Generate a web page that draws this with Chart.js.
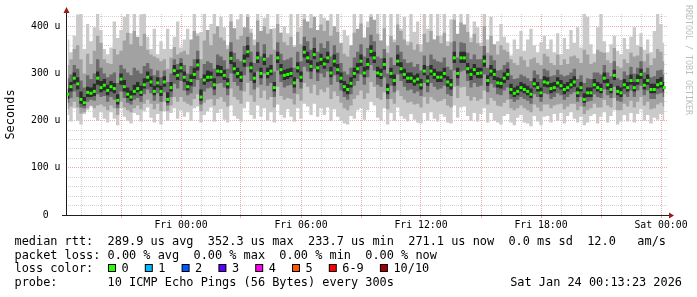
<!DOCTYPE html>
<html>
<head>
<meta charset="utf-8">
<title>Smokeping latency</title>
<script src="https://cdn.jsdelivr.net/npm/chart.js@4.4.1/dist/chart.umd.min.js"></script>
<style>
  html, body { margin: 0; padding: 0; background: #fff; }
  #smoke { display: block; }
</style>
</head>
<body>
<canvas id="smoke" width="697" height="297"></canvas>
<script>
const smokeCanvas = document.getElementById('smoke');

// samples every 10 minutes, first one at Thu 18:15 (hours counted from Fri 00:00)
const startHour = -5.75;
const stepMinutes = 10;

// median rtt in microseconds
const median = [
  256,272,290,278,245,238,260,258,262,290,270,275,
  264,272,268,243,288,272,256,250,262,268,260,276,
  292,282,262,280,262,282,245,270,306,296,312,292,
  272,285,298,318,250,286,292,292,276,305,304,296,
  278,332,310,300,292,326,346,312,290,333,300,330,
  300,305,270,333,308,296,298,300,280,312,292,345,
  333,315,340,312,330,320,333,301,326,308,290,272,
  266,279,300,310,326,301,319,347,333,301,298,319,
  266,300,285,326,310,298,290,290,284,288,276,305,
  284,305,298,292,292,300,282,276,333,300,333,333,
  310,298,308,300,301,326,285,305,298,280,279,290,
  298,266,258,262,270,266,262,256,278,270,259,282,
  280,268,270,280,274,266,270,276,282,259,270,245,
  259,259,276,270,266,290,276,266,296,262,259,276,
  270,285,270,285,298,275,285,266,266,276,279,270
];

// smoke: fastest / slowest ping of each round
const pingMin = [
  212,198,226,200,192,214,222,230,206,200,218,204,
  196,218,204,190,226,208,200,194,216,212,198,220,
  228,206,196,214,192,220,200,216,226,204,222,208,
  218,200,226,230,196,212,220,228,198,216,224,202,
  196,232,210,204,198,226,240,212,204,232,208,226,
  200,218,196,234,212,206,224,208,198,226,204,236,
  230,212,236,208,226,212,228,200,224,208,200,194,
  192,210,204,222,226,202,222,240,232,206,200,226,
  192,216,200,228,210,204,198,214,202,196,194,216,
  200,218,204,198,214,208,196,194,232,206,228,230,
  210,200,216,198,214,226,196,216,200,196,192,210,
  214,196,190,206,212,196,194,188,210,198,190,208,
  210,196,214,200,216,194,210,218,204,196,208,190,
  196,210,214,194,208,218,196,210,222,192,198,212,
  198,216,196,214,224,200,212,194,206,202,214,200
];
const pingMax = [
  372,345,380,425,430,352,405,368,398,430,392,352,
  340,355,410,375,392,420,430,385,430,362,425,430,
  378,352,395,340,368,352,395,352,378,410,355,372,
  395,352,430,385,388,430,366,405,430,372,420,398,
  360,430,380,415,430,372,430,395,372,430,356,418,
  430,375,396,430,368,400,385,430,360,430,398,430,
  390,430,405,372,430,418,376,430,392,430,365,392,
  380,350,430,395,430,372,410,430,388,430,360,430,
  358,430,372,430,395,420,368,430,388,410,362,430,
  395,430,372,430,380,430,368,415,430,382,430,396,
  430,376,410,398,365,430,372,420,355,368,405,378,
  365,338,372,352,390,348,372,395,360,345,366,380,
  352,372,345,385,340,375,352,392,365,398,355,430,
  420,362,342,398,428,368,345,362,380,348,340,375,
  352,378,398,360,385,350,372,345,390,430,405,365
];

// 2nd fastest / 2nd slowest
const lowMid = [
  225,230,240,228,215,218,226,232,226,232,234,230,
  222,232,226,212,240,228,222,218,226,232,224,236,
  244,236,224,236,220,240,220,232,250,240,250,240,
  236,232,246,256,220,238,244,246,232,246,250,240,
  230,268,250,244,236,262,280,254,240,270,248,264,
  244,250,228,272,252,244,248,246,234,256,242,280,
  272,258,276,254,266,260,270,246,262,252,238,226,
  222,232,246,254,264,246,258,282,272,248,244,260,
  224,246,236,264,252,244,238,240,234,236,228,250,
  236,250,244,240,242,246,232,228,272,248,270,272,
  252,242,250,242,246,264,234,248,242,232,230,238,
  244,226,222,226,232,226,222,218,234,228,220,234,
  234,226,232,234,236,224,230,236,236,222,230,214,
  222,226,236,228,228,244,232,228,248,222,222,236,
  230,242,228,240,250,232,240,224,226,234,238,230
];
const highMid = [
  318,330,352,360,330,300,342,320,348,380,365,330,
  322,320,352,340,348,370,386,362,390,378,358,384,
  350,340,336,332,326,330,310,334,356,340,345,348,
  340,372,390,380,330,370,392,360,384,400,376,370,
  352,410,396,372,380,398,420,386,360,412,390,400,
  384,394,350,405,386,366,360,378,356,388,362,415,
  410,396,420,392,404,390,412,380,400,388,364,342,
  336,360,386,394,406,376,398,420,414,384,370,396,
  344,380,366,404,390,372,360,366,350,362,346,384,
  366,390,372,380,364,386,358,366,414,384,408,404,
  388,366,384,364,358,400,344,380,362,340,360,350,
  346,330,322,318,336,328,314,330,334,322,318,342,
  336,322,318,340,318,330,320,336,338,332,322,350,
  340,320,324,350,346,344,328,322,354,316,312,330,
  322,344,336,338,356,326,342,318,332,352,346,326
];

// 3rd fastest / 3rd slowest
const lowInner = [
  238,248,262,250,228,226,240,244,242,256,250,252,
  240,250,244,226,262,248,238,234,244,248,240,256,
  266,258,242,258,240,260,232,250,278,268,284,264,
  254,258,272,286,234,262,268,270,254,278,280,270,
  254,300,282,274,264,296,314,284,266,304,276,300,
  274,280,250,306,282,270,274,276,258,288,268,314,
  304,288,310,284,300,292,304,276,296,282,264,250,
  244,256,274,284,298,276,292,318,306,276,272,292,
  246,274,260,298,284,272,264,266,258,262,252,280,
  260,280,272,266,268,274,256,252,306,274,304,306,
  284,270,280,272,274,298,260,278,270,256,254,264,
  270,246,240,244,250,246,242,236,256,250,240,258,
  256,246,250,258,254,244,250,256,260,240,250,230,
  240,242,256,250,248,266,254,248,272,242,240,256,
  250,264,250,264,274,254,264,246,246,256,258,250
];
const highInner = [
  290,298,318,310,285,270,296,288,300,330,312,300,
  292,298,302,280,318,310,302,296,312,306,300,316,
  322,310,296,306,292,306,282,300,330,320,332,318,
  300,316,330,348,290,320,326,322,310,340,336,328,
  310,366,344,330,326,358,378,346,322,366,336,362,
  334,340,304,366,342,328,330,334,312,346,326,378,
  368,350,376,346,364,354,368,336,360,344,322,304,
  298,312,334,346,362,336,354,382,368,336,332,352,
  300,334,318,360,346,330,322,324,314,320,306,338,
  316,340,330,326,324,334,314,308,368,334,366,364,
  344,330,340,330,330,358,312,338,328,306,308,318,
  324,296,288,290,298,294,290,284,306,298,288,310,
  306,294,296,308,298,294,296,302,310,288,296,280,
  290,288,302,302,298,318,302,294,326,290,286,304,
  296,314,300,312,326,302,312,292,294,306,308,298
];

// pings closest to the median
const lowCore = [
  246,262,278,266,236,232,250,250,252,276,260,264,
  254,262,258,234,276,262,248,242,254,260,252,268,
  282,272,254,270,252,272,238,262,296,286,302,282,
  264,274,288,306,242,276,282,284,266,294,294,286,
  268,320,300,290,282,314,334,302,280,322,290,318,
  290,296,262,322,298,286,288,292,270,302,282,334,
  322,304,330,302,318,310,322,292,314,298,280,262,
  256,270,290,300,316,292,308,336,322,292,288,308,
  256,290,274,316,300,288,280,280,274,278,266,296,
  274,296,288,282,282,290,272,266,322,290,322,322,
  300,286,296,290,290,314,274,294,286,270,268,280,
  286,256,250,254,262,258,254,248,270,262,250,272,
  270,258,262,270,266,256,262,268,272,250,262,238,
  250,250,268,262,258,280,266,258,286,254,250,268,
  262,276,262,276,288,266,276,258,258,268,270,262
];
const highCore = [
  268,282,302,292,262,250,272,270,278,304,284,288,
  276,284,280,256,300,286,270,264,276,282,274,290,
  304,294,274,292,274,294,260,282,318,308,322,304,
  284,298,312,330,266,298,306,304,290,318,316,308,
  290,346,324,312,304,340,360,324,302,346,312,342,
  312,318,282,346,320,308,310,312,292,324,304,358,
  346,328,354,324,342,332,346,314,340,320,302,284,
  278,292,312,322,340,314,332,360,346,314,310,332,
  278,312,298,340,324,310,302,302,296,300,288,318,
  296,318,310,304,304,312,294,288,346,312,346,346,
  322,310,320,312,312,338,296,318,310,292,290,302,
  310,278,270,274,282,278,274,268,290,282,270,294,
  292,280,282,292,286,278,282,288,294,270,282,258,
  270,270,288,282,278,302,288,278,308,274,270,288,
  282,298,282,298,310,288,298,278,278,288,292,282
];

const hourTicks = [0, 6, 12, 18, 24];
const hourLabels = ['Fri 00:00', 'Fri 06:00', 'Fri 12:00', 'Fri 18:00', 'Sat 00:00'];
const yTicks = [0, 100, 200, 300, 400];
const yLabels = ['0  ', '100 u', '200 u', '300 u', '400 u'];

const lossLabels = ['0', '1', '2', '3', '4', '5', '6-9', '10/10'];
const lossColors = ['#26ff00', '#00b8ff', '#0059ff', '#5e00ff', '#ff00ea', '#ff5500', '#ff0000', '#a10000'];

const legendLines = [
  'median rtt:  289.9 us avg  352.3 us max  233.7 us min  271.1 us now  0.0 ms sd  12.0   am/s',
  'packet loss: 0.00 % avg  0.00 % max  0.00 % min  0.00 % now',
  'loss color:',
  'probe:       10 ICMP Echo Pings (56 Bytes) every 300s'
];
const stampText = 'Sat Jan 24 00:13:23 2026';

const majorGrid = 'rgba(215, 90, 90, 0.5)';
const minorGrid = 'rgba(150, 150, 150, 0.42)';
const monoFont = '"DejaVu Sans Mono", "Liberation Mono", monospace';


// x value of every sample (middle of its 10 minute step)
const times = median.map((v, i) => startHour + (i + 0.5) * stepMinutes / 60);
const toPoints = arr => arr.map((v, i) => ({x: times[i], y: v}));

const smokeLayers = [
    {lo: pingMin, hi: pingMax, color: '#cacaca'},
    {lo: lowMid, hi: highMid, color: '#a2a2a2'},
    {lo: lowInner, hi: highInner, color: '#6c6c6c'},
    {lo: lowCore, hi: highCore, color: '#2c2c2c'}
];

let datasets = [];
smokeLayers.forEach((layer, n) => {
    datasets.push({
        data: toPoints(layer.lo),
        borderWidth: 0,
        borderColor: 'rgba(0,0,0,0)',
        pointRadius: 0,
        fill: false,
        stepped: 'middle',
        order: 100 - n * 2
    });
    datasets.push({
        data: toPoints(layer.hi),
        borderWidth: 0,
        borderColor: 'rgba(0,0,0,0)',
        backgroundColor: layer.color,
        pointRadius: 0,
        fill: '-1',
        stepped: 'middle',
        order: 99 - n * 2
    });
});

// green median marks (0 % loss)
datasets.push({
    data: toPoints(median),
    showLine: false,
    pointStyle: 'rect',
    pointRadius: 2.1,
    pointBackgroundColor: lossColors[0],
    pointBorderWidth: 0,
    order: 0
});


// axes, arrows, watermark and the legend text under the graph
const rrdDecor = {
    id: 'rrdDecor',
    afterDraw(chart) {
        const ctx = chart.ctx;
        const area = chart.chartArea;
        ctx.save();

        ctx.strokeStyle = '#1e1e1e';
        ctx.lineWidth = 1;
        ctx.beginPath();
        ctx.moveTo(area.left + 0.5, area.bottom + 0.5);
        ctx.lineTo(area.left + 0.5, area.top - 3);
        ctx.moveTo(area.left - 4, area.bottom + 0.5);
        ctx.lineTo(area.right + 2, area.bottom + 0.5);
        ctx.stroke();

        ctx.fillStyle = '#9b1b1b';
        ctx.beginPath();
        ctx.moveTo(area.left + 0.5, area.top - 7);
        ctx.lineTo(area.left - 2.5, area.top - 1);
        ctx.lineTo(area.left + 3.5, area.top - 1);
        ctx.closePath();
        ctx.fill();
        ctx.beginPath();
        ctx.moveTo(area.right + 6, area.bottom + 0.5);
        ctx.lineTo(area.right + 1, area.bottom - 2.5);
        ctx.lineTo(area.right + 1, area.bottom + 3.5);
        ctx.closePath();
        ctx.fill();

        // y axis title
        ctx.fillStyle = '#000';
        ctx.font = '11.9px ' + monoFont;
        ctx.textAlign = 'center';
        ctx.textBaseline = 'middle';
        ctx.save();
        ctx.translate(11, (area.top + area.bottom) / 2);
        ctx.rotate(-Math.PI / 2);
        ctx.fillText('Seconds', 0, 0);
        ctx.restore();

        // watermark
        ctx.save();
        ctx.fillStyle = '#bdbdbd';
        ctx.font = '8.3px ' + monoFont;
        ctx.textAlign = 'left';
        ctx.translate(688, 5);
        ctx.rotate(Math.PI / 2);
        ctx.fillText('RRDTOOL / TOBI OETIKER', 0, 0);
        ctx.restore();

        // legend
        ctx.font = '11.9px ' + monoFont;
        ctx.textAlign = 'left';
        ctx.textBaseline = 'alphabetic';
        const baselines = [245, 258.5, 272, 285.5];
        legendLines.forEach((line, i) => {
            ctx.fillText(line, 14.5, baselines[i]);
        });

        let sx = 108;
        lossLabels.forEach((label, i) => {
            ctx.fillStyle = '#000';
            ctx.fillRect(sx, 264, 8, 8);
            ctx.fillStyle = lossColors[i];
            ctx.fillRect(sx + 1, 265, 6, 6);
            ctx.fillStyle = '#000';
            ctx.fillText(label, sx + 13.5, baselines[2]);
            sx += 36.8 + (label.length - 1) * 7.15;
        });

        ctx.textAlign = 'right';
        ctx.fillText(stampText, 682, baselines[3]);
        ctx.restore();
    }
};


let smokeChart = new Chart(smokeCanvas, {
    type: 'line',
    data: { datasets: datasets },
    options: {
        responsive: false,
        animation: false,
        devicePixelRatio: 1,
        layout: {
            padding: { left: 0, right: 29, top: 14, bottom: 62 }
        },
        plugins: {
            legend: { display: false },
            tooltip: { enabled: false }
        },
        scales: {
            x: {
                type: 'linear',
                min: -5.75,
                max: 24.35,
                border: { display: false, dash: [1, 1] },
                grid: {
                    color: c => c.tick.value % 3 === 0 ? majorGrid : minorGrid,
                    drawTicks: true,
                    tickLength: 3,
                    tickColor: c => c.tick.value % 3 === 0 ? majorGrid : 'rgba(0,0,0,0)'
                },
                ticks: {
                    stepSize: 1,
                    includeBounds: false,
                    autoSkip: false,
                    maxRotation: 0,
                    padding: 2,
                    color: '#000',
                    font: { family: monoFont, size: 9.8 },
                    callback: v => {
                        const k = hourTicks.indexOf(v);
                        return k < 0 ? '' : hourLabels[k];
                    }
                },
                afterFit: s => { s.height = 20; }
            },
            y: {
                min: 0,
                max: 426,
                border: { display: false, dash: [1, 1] },
                grid: {
                    color: c => c.tick.value % 100 === 0 ? majorGrid : minorGrid,
                    drawTicks: false
                },
                ticks: {
                    stepSize: 20,
                    includeBounds: false,
                    autoSkip: false,
                    padding: 5.5,
                    color: '#000',
                    font: { family: monoFont, size: 9.8 },
                    callback: v => {
                        const k = yTicks.indexOf(v);
                        return k < 0 ? '' : yLabels[k];
                    }
                },
                afterFit: s => { s.width = 66; }
            }
        }
    },
    plugins: [rrdDecor]
});
</script>
</body>
</html>
